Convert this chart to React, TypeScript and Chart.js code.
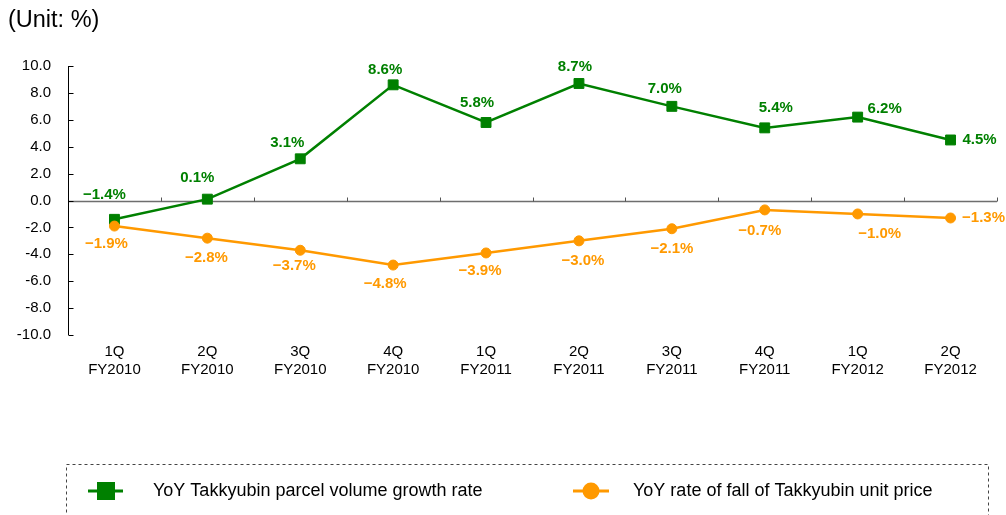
import React, { useEffect, useRef } from "react";
import { Chart, registerables } from "chart.js";

Chart.register(...registerables);

// ---- Data ----
const quarters = ["1Q", "2Q", "3Q", "4Q", "1Q", "2Q", "3Q", "4Q", "1Q", "2Q"];
const fiscalYears = ["FY2010", "FY2010", "FY2010", "FY2010", "FY2011", "FY2011", "FY2011", "FY2011", "FY2012", "FY2012"];
const volumeGrowth = [-1.4, 0.1, 3.1, 8.6, 5.8, 8.7, 7.0, 5.4, 6.2, 4.5];
const unitPriceFall = [-1.9, -2.8, -3.7, -4.8, -3.9, -3.0, -2.1, -0.7, -1.0, -1.3];
const yMin = -10;
const yMax = 10;
const yStep = 2;
const seriesNames = ["YoY Takkyubin parcel volume growth rate", "YoY rate of fall of Takkyubin unit price"];
const unitLabel = "(Unit: %)";

// ---- Styling ----
const FONT = "'Liberation Sans', Arial, sans-serif";
const GREEN = "#008000";
const ORANGE = "#FF9900";
const greenLabelOffsets = [[-10, -24], [-10, -21], [-13, -16], [-8, -15], [-9, -20], [-4, -17], [-7, -17], [11, -20], [27, -8], [29, 0]];
const orangeLabelOffsets = [[-8, 18], [-1, 20], [-6, 16], [-8, 19], [-6, 18], [4, 20], [0, 20], [-5, 21], [22, 20], [33, 0]];

const fmt = (v: number) => `${v < 0 ? "\u2212" : ""}${Math.abs(v).toFixed(1)}%`;

const customPlugin = {
  id: "customDraw",
  beforeDatasetsDraw(chart: any) {
    const { ctx, chartArea, scales } = chart;
    const x = scales.x;
    const y = scales.y;
    const y0 = Math.round(y.getPixelForValue(0)) + 0.5;
    ctx.save();
    // zero line
    ctx.strokeStyle = "#6e6e6e";
    ctx.lineWidth = 1.5;
    ctx.beginPath();
    ctx.moveTo(chartArea.left, y0);
    ctx.lineTo(chartArea.right, y0);
    ctx.stroke();
    // boundary ticks on the zero line
    ctx.lineWidth = 1;
    ctx.strokeStyle = "#555";
    for (let i = 0; i < quarters.length; i++) {
      const px = Math.round(x.getPixelForValue(i + 0.5)) + 0.5;
      ctx.beginPath();
      ctx.moveTo(px, y0);
      ctx.lineTo(px, y0 - 4);
      ctx.stroke();
    }
    // y axis line
    const lx = Math.round(chartArea.left) + 0.5;
    ctx.strokeStyle = "#000";
    ctx.lineWidth = 1;
    ctx.beginPath();
    ctx.moveTo(lx, y.getPixelForValue(yMax));
    ctx.lineTo(lx, y.getPixelForValue(yMin));
    ctx.stroke();
    // inner ticks
    for (let v = yMin; v <= yMax; v += yStep) {
      const py = Math.round(y.getPixelForValue(v)) + 0.5;
      ctx.beginPath();
      ctx.moveTo(lx, py);
      ctx.lineTo(lx + 5, py);
      ctx.stroke();
    }
    ctx.restore();
  },
  afterDraw(chart: any) {
    const { ctx, scales } = chart;
    const x = scales.x;
    const y = scales.y;
    ctx.save();
    // data labels
    ctx.font = `bold 15px ${FONT}`;
    ctx.textAlign = "center";
    ctx.textBaseline = "middle";
    const drawLabels = (vals: number[], offs: number[][], color: string) => {
      ctx.fillStyle = color;
      vals.forEach((v, i) => {
        const px = x.getPixelForValue(i);
        const py = y.getPixelForValue(v);
        ctx.fillText(fmt(v), px + offs[i][0], py + offs[i][1]);
      });
    };
    drawLabels(volumeGrowth, greenLabelOffsets, GREEN);
    drawLabels(unitPriceFall, orangeLabelOffsets, ORANGE);

    // unit label
    ctx.fillStyle = "#000";
    ctx.textAlign = "left";
    ctx.font = `23.5px ${FONT}`;
    ctx.fillText(unitLabel, 8, 21);

    // legend box
    ctx.strokeStyle = "#444";
    ctx.lineWidth = 1;
    ctx.setLineDash([3, 3]);
    ctx.strokeRect(66.5, 464.5, 922, 80);
    ctx.setLineDash([]);
    const ly = 491;
    // green item
    ctx.strokeStyle = GREEN;
    ctx.lineWidth = 3;
    ctx.beginPath();
    ctx.moveTo(88, ly);
    ctx.lineTo(123, ly);
    ctx.stroke();
    ctx.fillStyle = GREEN;
    ctx.fillRect(97, ly - 9, 18, 18);
    // orange item
    ctx.strokeStyle = ORANGE;
    ctx.beginPath();
    ctx.moveTo(573, ly);
    ctx.lineTo(609, ly);
    ctx.stroke();
    ctx.fillStyle = ORANGE;
    ctx.beginPath();
    ctx.arc(591, ly, 8.5, 0, Math.PI * 2);
    ctx.fill();
    // texts
    ctx.fillStyle = "#000";
    ctx.font = `18px ${FONT}`;
    ctx.textAlign = "left";
    ctx.fillText(seriesNames[0], 153, ly);
    ctx.fillText(seriesNames[1], 633, ly);
    ctx.restore();
  },
};

export default function App() {
  const canvasRef = useRef<HTMLCanvasElement | null>(null);

  useEffect(() => {
    document.body.style.margin = "0";
    const canvas = canvasRef.current;
    if (!canvas) return;
    const chart = new Chart(canvas, {
      type: "line",
      data: {
        labels: quarters.map((q, i) => [q, fiscalYears[i]]),
        datasets: [
          {
            label: seriesNames[0],
            data: volumeGrowth,
            borderColor: GREEN,
            backgroundColor: GREEN,
            borderWidth: 2.5,
            pointStyle: "rect",
            pointRadius: 7,
            pointBorderWidth: 1,
            pointBackgroundColor: GREEN,
            pointBorderColor: GREEN,
            tension: 0,
            order: 1,
          },
          {
            label: seriesNames[1],
            data: unitPriceFall,
            borderColor: ORANGE,
            backgroundColor: ORANGE,
            borderWidth: 2.5,
            pointStyle: "circle",
            pointRadius: 5,
            pointBorderWidth: 1,
            pointBackgroundColor: ORANGE,
            pointBorderColor: ORANGE,
            tension: 0,
            order: 0,
          },
        ],
      },
      options: {
        responsive: false,
        animation: false,
        devicePixelRatio: 1,
        layout: { padding: { top: 66, right: 9, left: 0, bottom: 0 } },
        plugins: {
          legend: { display: false },
          title: { display: false },
          tooltip: { enabled: false },
        },
        scales: {
          x: {
            type: "category",
            offset: true,
            grid: { display: false, drawTicks: false },
            border: { display: false },
            ticks: {
              color: "#000",
              font: { family: FONT, size: 15, lineHeight: 1.25 },
              padding: 7,
              maxRotation: 0,
              autoSkip: false,
            },
            afterFit: (s: any) => {
              s.height = 180;
            },
          },
          y: {
            min: yMin,
            max: yMax,
            grid: { display: false, drawTicks: false },
            border: { display: false },
            ticks: {
              stepSize: yStep,
              color: "#000",
              font: { family: FONT, size: 15 },
              padding: 17,
              callback: (v: any) => Number(v).toFixed(1),
            },
            afterFit: (s: any) => {
              s.width = 68;
            },
          },
        },
      },
      plugins: [customPlugin],
    } as any);
    return () => chart.destroy();
  }, []);

  return (
    <div style={{ width: 1006, height: 515, position: "relative" }}>
      <canvas ref={canvasRef} width={1006} height={515} style={{ width: 1006, height: 515, display: "block" }} />
    </div>
  );
}
